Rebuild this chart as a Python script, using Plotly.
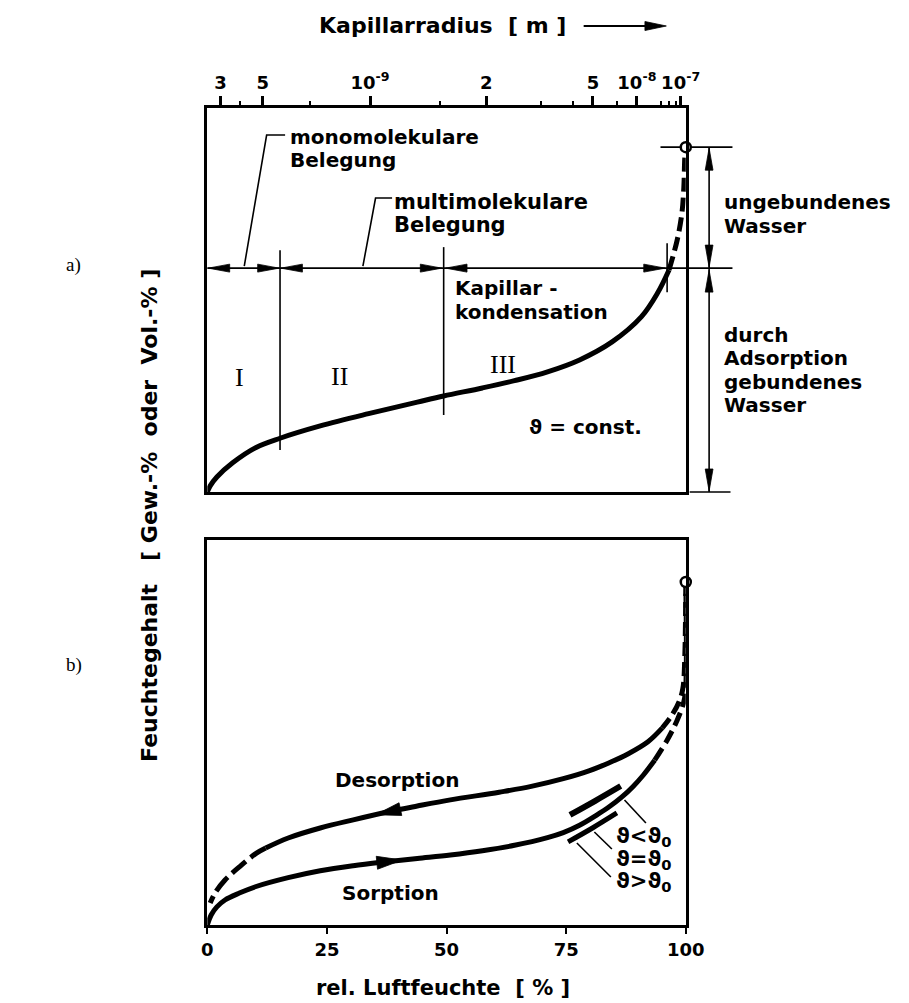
import numpy as np
import plotly.graph_objects as go

# ---------------- data ----------------
# Kelvin relation for water at 20 degC: phi = exp(-K / r), K = 2*sigma*Vm/(R*T)
SIGMA, VM, R_GAS, T_K = 0.0728, 18.05e-6, 8.314, 293.15
KELVIN_K = 2 * SIGMA * VM / (R_GAS * T_K)

radius_major = [3e-10, 5e-10, 1e-9, 2e-9, 5e-9, 1e-8, 1e-7]
radius_major_text = ["3", "5", "10<sup>-9</sup>", "2", "5", "10<sup>-8</sup>", "10<sup>-7</sup>"]
radius_minor = [4e-10, 7e-10, 1.5e-9, 3e-9, 4e-9, 7e-9, 2e-8, 3e-8, 5e-8]

rh_ticks = [0, 25, 50, 75, 100]
rh_tick_text = ["0", "25", "50", "75", "100"]

# panel a): sorption isotherm (rel. humidity %, moisture content, normalised)
iso_solid_rh = [0, 0.6, 2.0, 5.3, 10.2, 15.2, 23.6, 33.7, 43.9, 49.4, 57.5, 64.2,
                71.1, 77.8, 84.6, 90.7, 94.1, 96.5]
iso_solid_u = [0, 0.016, 0.039, 0.076, 0.116, 0.140, 0.172, 0.204, 0.234, 0.250, 0.271,
               0.290, 0.313, 0.344, 0.391, 0.456, 0.518, 0.578]
iso_dash_rh = [96.5, 98.2, 99.2, 99.6, 99.8, 100]
iso_dash_u = [0.578, 0.656, 0.727, 0.794, 0.872, 0.898]
sat_a_rh, sat_a_u = [100], [0.898]

region_bounds_rh = [15.2, 49.4]      # I | II | III
capillary_end_rh = 96.1
bound_limit_u = 0.583                # bound / unbound water

# panel b): sorption / desorption
sorp_solid_rh = [0, 0.8, 2.0, 3.7, 6.7, 10.2, 16.9, 23.6, 30.5, 37.2, 43.9, 50.8, 57.5,
                 64.2, 71.1, 74.4, 77.8, 81.3, 84.0, 86.6, 89.0, 91.1, 93.5]
sorp_solid_u = [0, 0.026, 0.047, 0.065, 0.083, 0.100, 0.123, 0.141, 0.154, 0.164, 0.173,
                0.182, 0.193, 0.207, 0.227, 0.240, 0.259, 0.285, 0.307, 0.332, 0.360,
                0.389, 0.428]
sorp_dash_rh = [93.5, 96.1, 98.2, 99.6, 100, 100]
sorp_dash_u = [0.428, 0.480, 0.532, 0.580, 0.62, 0.891]

desorp_dash_hi_rh = [100, 99.8, 99.4, 98.6, 97.0, 95.1]
desorp_dash_hi_u = [0.891, 0.700, 0.615, 0.580, 0.543, 0.512]
desorp_solid_rh = [95.1, 92.1, 88.0, 83.9, 79.9, 74.4, 67.7, 61.0, 50.8, 43.9, 38.6, 30.5,
                   23.6, 16.9, 12.2]
desorp_solid_u = [0.512, 0.476, 0.445, 0.421, 0.401, 0.380, 0.360, 0.345, 0.325, 0.309,
                  0.296, 0.273, 0.252, 0.226, 0.200]
desorp_dash_lo_rh = [12.2, 10.2, 6.7, 3.7, 1.6, 0.6]
desorp_dash_lo_u = [0.200, 0.186, 0.151, 0.117, 0.083, 0.057]
sat_b_rh, sat_b_u = [100], [0.891]

theta_lt_rh = [75.8, 81.0, 86.4]     # isotherm piece for theta < theta0
theta_lt_u = [0.286, 0.322, 0.361]
theta_gt_rh = [75.4, 80.5, 85.6]     # isotherm piece for theta > theta0
theta_gt_u = [0.216, 0.252, 0.291]

desorp_arrow_rh = 35.2
sorp_arrow_rh = 40.7

# ---------------- layout geometry ----------------
W, H = 909, 1003
PX_L, PX_R = 207, 699
A_TOP, A_BOT = 108, 492
B_TOP, B_BOT = 540, 925
FONT = "DejaVu Sans"
SERIF = "Liberation Serif"


def kelvin_rh(r):
    return 100.0 * np.exp(-KELVIN_K / np.asarray(r))


def to_px(x, u, panel):
    top, bot = panel
    return PX_L + (PX_R - PX_L) * x / 100.0, bot - (bot - top) * u


def line(x0, y0, x1, y1, w=1.6, layer="above"):
    return dict(type="line", xref="paper", yref="paper", x0=x0 / W, y0=1 - y0 / H,
                x1=x1 / W, y1=1 - y1 / H, line=dict(color="black", width=w), layer=layer)


def polyline(pts, w=1.6):
    path = "M " + " L ".join(f"{x / W:.5f},{1 - y / H:.5f}" for x, y in pts)
    return dict(type="path", path=path, xref="paper", yref="paper",
                line=dict(color="black", width=w))


def head(tip, toward, length=22, half=4):
    tx, ty = tip
    dx, dy = toward
    n = (dx * dx + dy * dy) ** 0.5
    dx, dy = dx / n, dy / n
    bx, by = tx - dx * length, ty - dy * length
    nx, ny = -dy, dx
    pts = [(tx, ty), (bx + nx * half, by + ny * half), (bx - nx * half, by - ny * half)]
    path = "M " + " L ".join(f"{x / W:.5f},{1 - y / H:.5f}" for x, y in pts) + " Z"
    return dict(type="path", path=path, xref="paper", yref="paper", fillcolor="black",
                line=dict(color="black", width=0.8))


def label(text, px, py, size=20, xanchor="left", family=FONT, bold=True, angle=0):
    return dict(text=text, x=px / W, y=1 - py / H, xref="paper", yref="paper",
                showarrow=False, xanchor=xanchor, yanchor="middle", textangle=angle,
                font=dict(family=family, size=size, color="black",
                          weight="bold" if bold else "normal"))


def curve_head(rh_list, u_list, rh_tip, panel, forward, length=26, half=6.5):
    order = np.argsort(rh_list)
    xs = np.asarray(rh_list)[order]
    us = np.asarray(u_list)[order]
    u_tip = np.interp(rh_tip, xs, us)
    step = 3.0 if forward else -3.0
    u_back = np.interp(rh_tip - step, xs, us)
    tip = to_px(rh_tip, u_tip, panel)
    back = to_px(rh_tip - step, u_back, panel)
    return head(tip, (tip[0] - back[0], tip[1] - back[1]), length, half)


# ---------------- traces ----------------
fig = go.Figure()
LW = 5
DASH = "14px,6px"


def add_curve(xs, ys, ax, dash=None, width=LW, smooth=1.0):
    fig.add_trace(go.Scatter(
        x=xs, y=ys, mode="lines", xaxis=ax[0], yaxis=ax[1], hoverinfo="skip",
        showlegend=False,
        line=dict(color="black", width=width, shape="spline", smoothing=smooth,
                  dash=dash if dash else "solid")))


A = ("x", "y")
B = ("x2", "y2")
add_curve(iso_solid_rh, iso_solid_u, A)
add_curve(iso_dash_rh, iso_dash_u, A, DASH)
add_curve(sorp_solid_rh, sorp_solid_u, B)
add_curve(sorp_dash_rh, sorp_dash_u, B, DASH)
add_curve(desorp_dash_hi_rh, desorp_dash_hi_u, B, DASH)
add_curve(desorp_solid_rh, desorp_solid_u, B)
add_curve(desorp_dash_lo_rh, desorp_dash_lo_u, B, "18px,6px")
add_curve(theta_lt_rh, theta_lt_u, B, width=6)
add_curve(theta_gt_rh, theta_gt_u, B, width=5)

for xs, ys, ax in [(sat_a_rh, sat_a_u, A), (sat_b_rh, sat_b_u, B)]:
    fig.add_trace(go.Scatter(
        x=xs, y=ys, mode="markers", xaxis=ax[0], yaxis=ax[1], hoverinfo="skip",
        showlegend=False, cliponaxis=False,
        marker=dict(symbol="circle", size=10, color="white",
                    line=dict(color="black", width=2.5))))

# ---------------- decorations ----------------
shapes = []
ann = []
PA = (A_TOP, A_BOT)
PB = (B_TOP, B_BOT)

# horizontal boundary line bound / unbound water
_, y_sep = to_px(0, bound_limit_u, PA)
_, y_sat = to_px(0, sat_a_u[0], PA)
DIM_X = 723
shapes.append(line(PX_L, y_sep, 747, y_sep))
shapes.append(line(673, y_sat, 747, y_sat, layer="below"))
shapes.append(line(703, A_BOT, 745, A_BOT))
shapes.append(line(DIM_X, y_sat, DIM_X, A_BOT))
shapes += [head((DIM_X, y_sat + 1), (0, -1)), head((DIM_X, y_sep - 1), (0, 1)),
           head((DIM_X, y_sep + 2), (0, -1)), head((DIM_X, A_BOT - 1), (0, 1))]

# region boundaries I | II | III
bx = [to_px(r, 0, PA)[0] for r in region_bounds_rh]
shapes.append(line(bx[0], y_sep - 18, bx[0], 450))
shapes.append(line(bx[1], y_sep - 21, bx[1], 415))
ex = to_px(capillary_end_rh, 0, PA)[0]
shapes.append(line(ex, y_sep - 25, ex, y_sep + 24))
shapes += [head((PX_L + 1, y_sep), (-1, 0)), head((bx[0] - 1, y_sep), (1, 0)),
           head((bx[0] + 1, y_sep), (-1, 0)), head((bx[1] - 2, y_sep), (1, 0)),
           head((bx[1] + 2, y_sep), (-1, 0)), head((ex - 2, y_sep), (1, 0))]

# leaders
shapes.append(polyline([(287, 135), (268, 135), (245, y_sep - 2)]))
shapes.append(polyline([(397, 198), (380, 198), (367, y_sep - 2)]))

# title arrow
shapes.append(line(594, 26, 662, 26, w=2.2))
shapes.append(head((679, 26), (1, 0), 22, 4.5))

# curve direction arrows (panel b)
shapes.append(curve_head(desorp_solid_rh, desorp_solid_u, desorp_arrow_rh, PB, forward=False))
shapes.append(curve_head(sorp_solid_rh, sorp_solid_u, sorp_arrow_rh, PB, forward=True))

# theta leaders
shapes.append(line(636, 800, 658, 823))
shapes.append(line(605, 832, 623, 849))
shapes.append(line(587, 843, 622, 877))

# texts panel a
ann += [label("monomolekulare", 290, 137), label("Belegung", 290, 160),
        label("multimolekulare", 397, 202, size=21), label("Belegung", 397, 225, size=21),
        label("Kapillar -", 460, 288), label("kondensation", 460, 312),
        label("ϑ = const.", 536, 427),
        label("ungebundenes", 736, 202), label("Wasser", 736, 226),
        label("durch", 736, 335), label("Adsorption", 736, 358),
        label("gebundenes", 736, 382), label("Wasser", 736, 405),
        label("I", 240, 377, size=26, xanchor="center", family=SERIF, bold=False),
        label("II", 343, 376, size=26, xanchor="center", family=SERIF, bold=False),
        label("III", 511, 364, size=26, xanchor="center", family=SERIF, bold=False),
        label("a)", 60, 265, size=19, family=SERIF, bold=False),
        label("b)", 60, 665, size=19, family=SERIF, bold=False),
        label("Kapillarradius  [ m ]", 320, 26, size=22)]

# texts panel b
ann += [label("Desorption", 402, 780, xanchor="center"),
        label("Sorption", 395, 893, xanchor="center"),
        label("ϑ&lt;ϑ<sub>0</sub>", 625, 837, size=21),
        label("ϑ=ϑ<sub>0</sub>", 625, 860, size=21),
        label("ϑ&gt;ϑ<sub>0</sub>", 625, 882, size=21),
        label("rel. Luftfeuchte  [ % ]", 449, 988, size=21, xanchor="center"),
        label("Feuchtegehalt   [ Gew.-%  oder  Vol.-% ]", 147, 515, size=22,
              xanchor="center", angle=-90)]

# ---------------- axes ----------------
common = dict(showgrid=False, zeroline=False, showline=True, mirror=True,
              linecolor="black", linewidth=3)
tickfont = dict(family=FONT, size=18, color="black", weight="bold")
fig.update_layout(
    width=W, height=H, autosize=False,
    margin=dict(l=0, r=0, t=0, b=0),
    paper_bgcolor="white", plot_bgcolor="rgba(0,0,0,0)",
    showlegend=False,
    xaxis=dict(domain=[PX_L / W, PX_R / W], range=[0, 100], anchor="y", side="top",
               tickmode="array", tickvals=list(kelvin_rh(radius_major)),
               ticktext=radius_major_text, ticks="outside", ticklen=9, tickwidth=2.5,
               tickcolor="black", tickangle=0, tickfont=tickfont,
               minor=dict(tickmode="array", tickvals=list(kelvin_rh(radius_minor)),
                          ticks="outside", ticklen=4, tickwidth=1.5, tickcolor="black"),
               **common),
    yaxis=dict(domain=[1 - A_BOT / H, 1 - A_TOP / H], range=[0, 1], anchor="x",
               showticklabels=False, ticks="", **common),
    xaxis2=dict(domain=[PX_L / W, PX_R / W], range=[0, 100], anchor="y2", side="bottom",
                tickmode="array", tickvals=rh_ticks, ticktext=rh_tick_text,
                ticks="outside", ticklen=6, tickwidth=2, tickcolor="black", tickangle=0,
                tickfont=tickfont, **common),
    yaxis2=dict(domain=[1 - B_BOT / H, 1 - B_TOP / H], range=[0, 1], anchor="x2",
                showticklabels=False, ticks="", **common),
    shapes=shapes,
    annotations=ann,
)

fig.write_html("out.html", config={"displayModeBar": False},
               post_script="document.body.style.margin='0';")
